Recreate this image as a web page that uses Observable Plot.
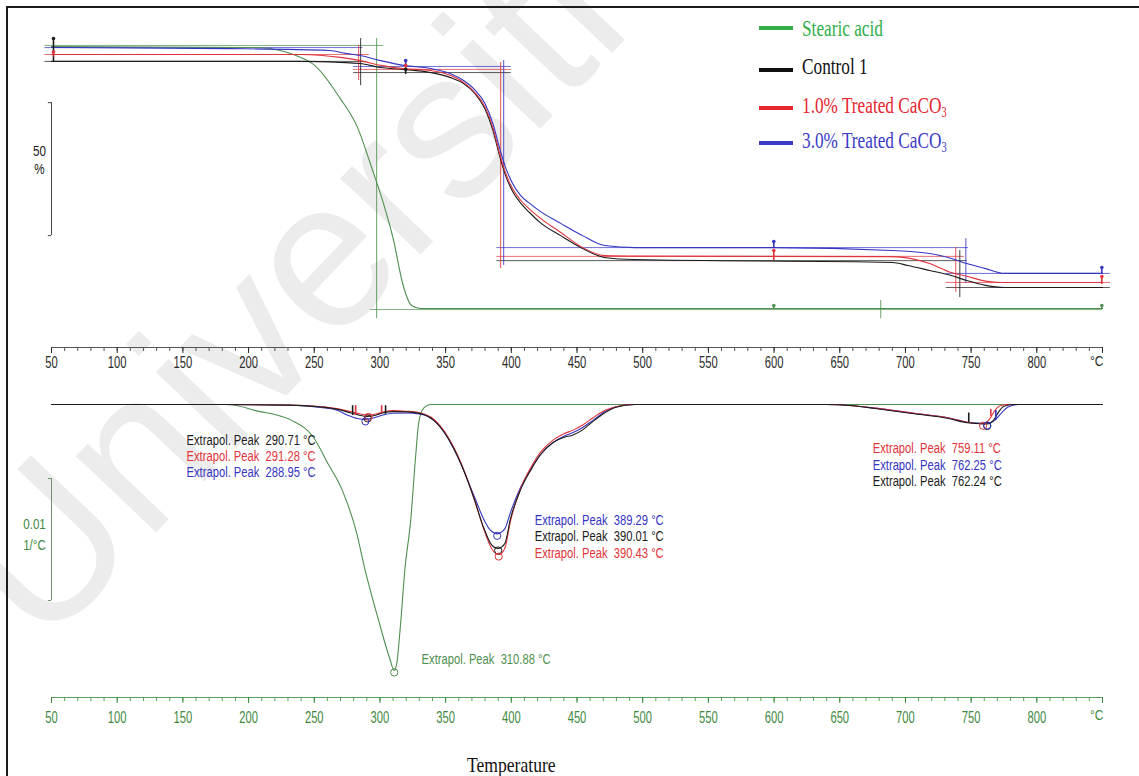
<!DOCTYPE html>
<html>
<head>
<meta charset="utf-8">
<script src="https://cdn.jsdelivr.net/npm/d3@7"></script>
<script src="https://cdn.jsdelivr.net/npm/@observablehq/plot@0.6"></script>
<style>
  html, body { margin: 0; padding: 0; background: #fff; }
  #page { position: relative; width: 1139px; height: 776px; overflow: hidden; background: #fff; }
  #frame { position: absolute; left: 6px; top: 6px; width: 1140px; height: 780px; border-left: 2px solid #1b1b1b; border-top: 2px solid #1b1b1b; }
  .layer { position: absolute; left: 0; }
  #legend { position: absolute; left: 0; top: 0; width: 1139px; height: 170px; font-family: "Liberation Serif", "Times New Roman", serif; font-size: 23px; }
  #legend .sw { position: absolute; left: 759px; width: 34px; height: 4px; }
  #legend .lab { position: absolute; left: 802px; white-space: nowrap; line-height: 1; transform-origin: 0 50%; transform: translateY(-50%) scaleX(0.75); }
  #legend sub { font-size: 60%; vertical-align: -0.25em; }
</style>
</head>
<body>
<div id="page">
  <div id="frame"></div>
</div>
<script>
// ---------- series ----------
const seriesNames = ["Stearic acid", "Control 1", "1.0% Treated CaCO₃", "3.0% Treated CaCO₃"];
const seriesColors = ["#4f8f4f", "#1c1c1c", "#e1343a", "#3535c2"];
const legendColors = ["#31ae4a", "#111111", "#e5262e", "#3b3bc4"];

// ---------- temperature axis ----------
const axisTicks = [50, 100, 150, 200, 250, 300, 350, 400, 450, 500, 550, 600, 650, 700, 750, 800, 850];
const axisTickLabels = ["50", "100", "150", "200", "250", "300", "350", "400", "450", "500", "550", "600", "650", "700", "750", "800", ""];
const axisUnit = "°C";
const axisTitle = "Temperature";

// ---------- TGA: mass (%) vs temperature (°C) ----------
const tgaStearic = [[50,100],[206.9,99.6],[224,98.5],[239.6,95.9],[250.3,92.9],[269.3,80.8],[283,69.5],[293.7,54.5],[302,42.1],[310.4,27.1],[317.3,10.9],[324.1,2.6],[331,1.5],[850,1.5]];
const tgaControl = [[50,94.4],[240,94.4],[270,94.0],[285,93.6],[300.5,92.1],[318,91.4],[338.6,90.2],[353.8,88.3],[363.7,86.1],[372,82.5],[380,76.5],[386,68.5],[391,59],[396,51],[401,45.5],[407,41.2],[414,37.5],[422,33.8],[437.6,28.9],[454.3,24.1],[471,20.7],[494,19.9],[690,18.8],[701.8,17.7],[718.5,15.8],[735,13.9],[746.7,12.0],[761,10.2],[775,9.4],[850,9.4]];
const tgaTreated1 = [[50,97.0],[240,97.0],[270,95.9],[285,94.7],[300.5,92.9],[318,91.7],[338.6,91.0],[353.8,89.1],[363.7,86.5],[372,82.8],[380,77.3],[386,69.5],[391,60],[396,52],[401,46.5],[407,42.3],[414,38.8],[422,35.5],[437.6,30.1],[454.3,24.4],[471,21.4],[494,21.2],[690,21.0],[718.5,18.4],[735,15.0],[746.7,13.6],[761,11.8],[772,11.3],[850,11.3]];
const tgaTreated3 = [[50,99.6],[186,99.2],[262,98.5],[274,97.4],[285,96.6],[300.5,94.7],[318,92.9],[338.6,91.7],[353.8,89.8],[363.7,87.2],[372,83.8],[380,78.5],[386,71],[391,62],[396,54],[401,48.5],[407,44],[414,41],[422,38],[437.6,33.5],[454.3,28.9],[471,25.2],[494,24.4],[599,24.4],[690,23.3],[718.5,22.2],[735,20.3],[746.7,18.4],[761,16.5],[775,14.7],[850,14.7]];

// step evaluation: horizontal tangents [series, from °C, to °C, level %]
const tgaLevels = [[0,45,303,100.4],[0,293,850,1.1],[3,45,287,99.6],[2,45,292,97.0],[1,45,290,94.4],
  [3,280,400,92.5],[2,280,400,91.4],[1,280,400,90.2],
  [3,389,748,24.4],[2,389,745,21.1],[1,389,747,19.5],
  [3,731,856,14.7],[2,731,856,11.3],[1,731,856,9.4]];
// step evaluation: inflection verticals [series, °C, low %, high %]
const tgaInflections = [[0,297.5,-2.3,103],[0,681.2,-2.3,4.5],[1,285.3,85.3,103],[2,283.8,87.2,100.4],
  [3,394.2,17.7,94.7],[2,391.9,16.5,94.0],[3,746,10.9,27.8],[1,741.4,5.6,23.3],[2,738.3,7.5,24.4]];
// cursor marks [series, °C, low %, high %]
const tgaCursors = [[1,51.5,94,103],[2,51.5,96,98],[3,319.6,92.5,94.7],[2,319.6,91,92.9],[1,319.6,89.5,91.4],
  [3,599.8,24.1,26.7],[2,599.8,19.5,23.3],[3,849.5,14.7,16.9],[2,849.5,10.5,13.5],[0,599.8,1.1,2.6],[0,849.5,1.1,2.6]];
const tgaScale = {from: 28.9, to: 78.9, label: "50\n%"};

// ---------- DTG: 1/°C vs temperature (°C) ----------
const dtgStearic = [[50,0],[185,0],[205.3,-0.0005],[232.7,-0.0013],[249.5,-0.0027],[260.2,-0.0048],[271.6,-0.0071],[282.2,-0.0105],[288.3,-0.0134],[299,-0.0177],[307.4,-0.0208],[310.88,-0.0218],[312.7,-0.0213],[315.7,-0.0180],[319,-0.0135],[323.4,-0.0095],[327.2,-0.0042],[329.5,-0.0015],[333.3,-0.0003],[338.6,0],[850,0]];
const dtgControl = [[50,0],[180,0],[230,-0.00005],[255,-0.0002],[268,-0.0004],[278,-0.0007],[285,-0.0009],[290.71,-0.00098],[296,-0.0009],[302,-0.0007],[310,-0.00058],[320,-0.0006],[331,-0.00075],[341,-0.0013],[351.5,-0.0027],[361.4,-0.0048],[371.3,-0.0076],[379,-0.0101],[385,-0.0115],[390.01,-0.0118],[395,-0.0114],[399.5,-0.0093],[407,-0.0070],[414.7,-0.0054],[422.3,-0.0041],[432,-0.0031],[440,-0.0027],[447,-0.0025],[454,-0.0021],[462,-0.0014],[471,-0.0007],[479,-0.00025],[494,0],[640,0],[660,-0.0001],[677,-0.00033],[705,-0.00074],[733,-0.00115],[747,-0.0015],[755,-0.00156],[762.24,-0.0016],[767,-0.0013],[771,-0.0006],[775,-0.00015],[782,0],[850,0]];
const dtgTreated1 = [[50,0],[180,0],[230,-0.00004],[255,-0.00018],[268,-0.00035],[278,-0.0006],[285,-0.00078],[291.28,-0.00085],[297,-0.00078],[303,-0.0006],[310,-0.0005],[320,-0.00055],[331,-0.0007],[341,-0.0012],[351.5,-0.0026],[361.4,-0.0047],[371.3,-0.0076],[379,-0.0102],[385,-0.0118],[390.43,-0.0123],[395,-0.0118],[399.5,-0.0095],[407,-0.0069],[414.7,-0.0052],[422.3,-0.0039],[432,-0.0029],[440,-0.0024],[447,-0.0021],[454,-0.0017],[462,-0.0011],[471,-0.0005],[479,-0.0002],[492,0],[640,0],[660,-0.0001],[677,-0.0003],[705,-0.0007],[733,-0.0011],[747,-0.00145],[759.11,-0.00158],[764,-0.0012],[768,-0.0005],[772,-0.0001],[778,0],[850,0]];
const dtgTreated3 = [[50,0],[180,0],[230,-0.00006],[255,-0.00025],[268,-0.0005],[276,-0.0009],[283,-0.00115],[288.95,-0.00122],[295,-0.0011],[301,-0.0009],[310,-0.00072],[320,-0.0007],[331,-0.0008],[341,-0.0013],[351.5,-0.0027],[361.4,-0.0048],[371.3,-0.0074],[379,-0.0094],[384,-0.0103],[389.29,-0.0106],[395,-0.0102],[399.5,-0.0088],[407,-0.0068],[414.7,-0.0053],[422.3,-0.0041],[432,-0.0031],[440,-0.0026],[447,-0.0023],[454,-0.0019],[462,-0.0013],[471,-0.0006],[479,-0.0002],[494,0],[640,0],[660,-0.0001],[677,-0.0003],[705,-0.0007],[733,-0.0011],[747,-0.00145],[755,-0.00152],[762.25,-0.00155],[768,-0.0013],[773,-0.0007],[778,-0.0002],[786,0],[850,0]];

// extrapolated peak temperatures (°C) per series
const peakStearic = [310.88];
const peakControl = [290.71, 390.01, 762.24];
const peakTreated1 = [291.28, 390.43, 759.11];
const peakTreated3 = [288.95, 389.29, 762.25];

// integration limit ticks [series, °C, top, bottom]
const dtgLimits = [[1,279.2,-0.0001,-0.0009],[1,304.3,-0.0001,-0.0008],[2,281.5,-0.0001,-0.0009],[2,301.3,-0.0001,-0.0007],
  [1,748.2,-0.0007,-0.0015],[2,765,-0.0004,-0.001],[3,768.8,-0.0005,-0.0013]];
const dtgScale = {from: -0.00607, to: -0.01607, label: "0.01\n1/°C"};

// where each peak annotation is written: series index, peak index, anchor (°C, 1/°C)
const peakLabelSpots = [
  {s: 1, p: 0, x: 152.8, y: -0.00295},
  {s: 2, p: 0, x: 152.8, y: -0.00426},
  {s: 3, p: 0, x: 152.8, y: -0.00557},
  {s: 3, p: 1, x: 417.8, y: -0.00951},
  {s: 1, p: 1, x: 417.8, y: -0.01082},
  {s: 2, p: 1, x: 417.8, y: -0.01221},
  {s: 2, p: 2, x: 675.1, y: -0.00361},
  {s: 3, p: 2, x: 675.1, y: -0.00500},
  {s: 1, p: 2, x: 675.1, y: -0.00631},
  {s: 0, p: 0, x: 331.7, y: -0.02090}
];

// ---------- assembly ----------
const tgaSets = [tgaStearic, tgaControl, tgaTreated1, tgaTreated3];
const dtgSets = [dtgStearic, dtgControl, dtgTreated1, dtgTreated3];
const peakSets = [peakStearic, peakControl, peakTreated1, peakTreated3];
const rowsOf = (sets, order) => order.flatMap(i => sets[i].map(([t, v]) => ({series: seriesNames[i], t, v})));
const tgaRows = rowsOf(tgaSets, [0, 1, 2, 3]);
const dtgRows = rowsOf(dtgSets, [0, 3, 2, 1]);
const valueAt = (arr, t) => arr.reduce((a, b) => Math.abs(b[0] - t) < Math.abs(a[0] - t) ? b : a)[1];
const peakRows = peakSets.flatMap((ps, i) => ps.map(t => ({series: seriesNames[i], t, v: valueAt(dtgSets[i], t)})));
const labelRows = peakLabelSpots.map(d => {
  const t = peakSets[d.s][d.p];
  return {series: seriesNames[d.s], x: d.x, y: d.y, text: `Extrapol. Peak\u00a0\u00a0${t.toFixed(2)} °C`};
});
const tickLabel = new Map(axisTicks.map((t, i) => [t, axisTickLabels[i]]));
const minorTicks = d3.range(50, 851, 10);
const color = {domain: seriesNames, range: seriesColors};
const sansFont = "'Liberation Sans', Arial, sans-serif";

const tgaY = [-13.158, 114.286];
const dtgY = [-0.024016, 0.001148];

// faint diagonal watermark behind the charts
const page = document.getElementById("page");
const wm = d3.select(page).insert("svg", "#frame")
  .attr("class", "layer").attr("width", 1139).attr("height", 776).style("top", "0px");
wm.append("text")
  .attr("x", 42).attr("y", 652)
  .attr("transform", "rotate(-46.4 42 652)")
  .attr("font-family", sansFont).attr("font-size", 209)
  .attr("fill", "#ececec")
  .text("Universiti");

const tga = Plot.plot({
  width: 1139, height: 380,
  marginTop: 8, marginRight: 37, marginBottom: 33, marginLeft: 51,
  style: {background: "transparent", overflow: "visible", fontFamily: sansFont, fontSize: "14px"},
  x: {domain: [50, 850], label: null},
  y: {domain: tgaY, axis: null},
  color,
  marks: [
    Plot.ruleY(tgaLevels, {y: d => d[3], x1: d => d[1], x2: d => d[2], stroke: d => seriesNames[d[0]], strokeWidth: 0.9, strokeOpacity: 0.8}),
    Plot.ruleX(tgaInflections, {x: d => d[1], y1: d => d[2], y2: d => d[3], stroke: d => seriesNames[d[0]], strokeWidth: 1, strokeOpacity: 0.85}),
    Plot.line(tgaRows, {x: "t", y: "v", z: "series", stroke: "series", strokeWidth: 1.1, curve: "monotone-x"}),
    Plot.ruleX(tgaCursors, {x: d => d[1], y1: d => d[2], y2: d => d[3], stroke: d => seriesNames[d[0]], strokeWidth: 1.6}),
    Plot.dot(tgaCursors, {x: d => d[1], y: d => d[3], fill: d => seriesNames[d[0]], r: 1.8}),
    // 50 % scale bar
    Plot.ruleX([tgaScale], {x: 50, y1: "from", y2: "to", stroke: "#444"}),
    Plot.ruleY([tgaScale.from, tgaScale.to], {y: d => d, x1: 47.6, x2: 50, stroke: "#444"}),
    Plot.text([tgaScale], {x: 50, y: 57.5, dx: -12, text: "label", fontSize: 14.5, lineHeight: 1.25, fill: "#1a1a1a"}),
    // temperature axis
    Plot.ruleY([tgaY[0]], {stroke: "#555"}),
    Plot.axisX(minorTicks, {tickSize: 4, tickFormat: () => "", color: "#555", label: null}),
    Plot.axisX(axisTicks, {tickSize: 6, tickPadding: 3, tickFormat: d => tickLabel.get(d), fontSize: 16, color: "#2a2a2a", label: null}),
    Plot.text([axisUnit], {x: 850, frameAnchor: "bottom", dy: 18, dx: 1, textAnchor: "end", text: d => d, fontSize: 15, fill: "#2a2a2a"})
  ]
});

const dtg = Plot.plot({
  width: 1139, height: 396,
  marginTop: 10, marginRight: 37, marginBottom: 79, marginLeft: 51,
  style: {background: "transparent", overflow: "visible", fontFamily: sansFont, fontSize: "14px"},
  x: {domain: [50, 850], label: null},
  y: {domain: dtgY, axis: null},
  color,
  marks: [
    Plot.line(dtgRows, {x: "t", y: "v", z: "series", stroke: "series", strokeWidth: 1.1, curve: "monotone-x"}),
    Plot.ruleX(dtgLimits, {x: d => d[1], y1: d => d[2], y2: d => d[3], stroke: d => seriesNames[d[0]], strokeWidth: 1.6}),
    Plot.dot(peakRows, {x: "t", y: "v", stroke: "series", r: 3.6, dy: 2, strokeWidth: 1}),
    Plot.text(labelRows, {x: "x", y: "y", text: "text", fill: "series", textAnchor: "start", fontSize: 14}),
    // 0.01 1/°C scale bar
    Plot.ruleX([dtgScale], {x: 50, y1: "from", y2: "to", stroke: "#6e8f6e"}),
    Plot.ruleY([dtgScale.from, dtgScale.to], {y: d => d, x1: 47.6, x2: 50, stroke: "#6e8f6e"}),
    Plot.text([dtgScale], {x: 50, y: -0.01049, dx: -17, text: "label", fontSize: 14.5, lineHeight: 1.5, fill: "#3f8a3f"}),
    // temperature axis
    Plot.ruleY([dtgY[0]], {stroke: "#5aa05a"}),
    Plot.axisX(minorTicks, {tickSize: 4, tickFormat: () => "", color: "#5aa05a", label: null}),
    Plot.axisX(axisTicks, {tickSize: 6, tickPadding: 8, tickFormat: d => tickLabel.get(d), fontSize: 16, color: "#3f8a3f", label: null}),
    Plot.text([axisUnit], {x: 850, frameAnchor: "bottom", dy: 22, dx: 1, textAnchor: "end", text: d => d, fontSize: 15, fill: "#3f8a3f"}),
    Plot.text([axisTitle], {x: 400, frameAnchor: "bottom", dy: 74, text: d => d, fontSize: 22, fontFamily: "'Liberation Serif', 'Times New Roman', serif", fill: "#111"})
  ]
});

tga.classList.add("layer"); tga.style.top = "0px";
dtg.classList.add("layer"); dtg.style.top = "380px";
page.appendChild(tga);
page.appendChild(dtg);

// legend
const legend = d3.select(page).append("div").attr("id", "legend");
const legendRows = [28, 66, 107, 142];
const swatchRows = [28, 70, 108, 143];
seriesNames.forEach((name, i) => {
  legend.append("div").attr("class", "sw")
    .style("top", (swatchRows[i] - 2) + "px").style("background", legendColors[i]);
  legend.append("div").attr("class", "lab")
    .style("top", legendRows[i] + "px").style("color", legendColors[i])
    .html(name.replace("₃", "<sub>3</sub>"));
});

// narrow the lettering to the condensed look of the instrument printout
function condense(svg, k, kTicks) {
  svg.querySelectorAll("text").forEach(t => {
    const isTick = !!t.closest('[aria-label="x-axis tick label"]');
    const f = isTick ? kTicks : k;
    const spans = t.querySelectorAll("tspan");
    (spans.length ? Array.from(spans) : [t]).forEach(el => {
      const len = el.getComputedTextLength();
      if (len > 0) {
        el.setAttribute("textLength", (len * f).toFixed(2));
        el.setAttribute("lengthAdjust", "spacingAndGlyphs");
      }
    });
  });
}
condense(tga, 0.8, 0.7);
condense(dtg, 0.8, 0.7);
</script>
</body>
</html>
